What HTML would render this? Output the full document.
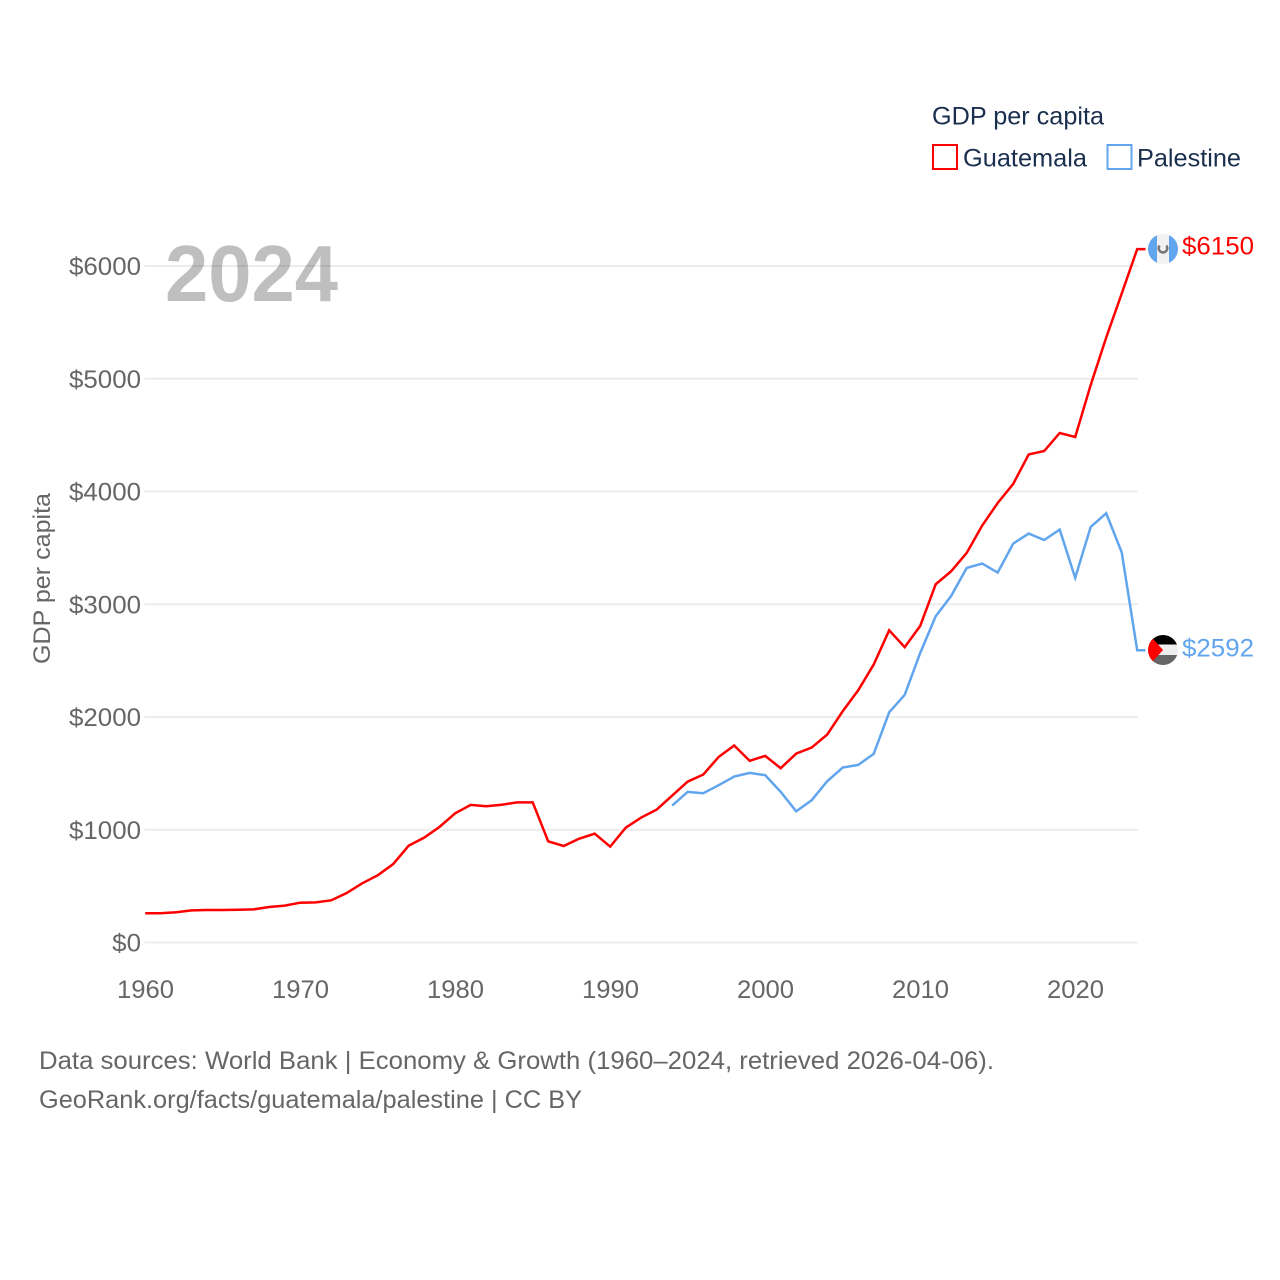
<!DOCTYPE html>
<html lang="en">
<head>
<meta charset="utf-8">
<title>GDP per capita: Guatemala and Palestine</title>
<style>
html,body{margin:0;padding:0;background:#fff;width:1280px;height:1280px;overflow:hidden}
svg{display:block;font-family:"Liberation Sans",sans-serif}
</style>
</head>
<body>
<svg id="chart" xmlns="http://www.w3.org/2000/svg" width="1280" height="1280" viewBox="0 0 1280 1280">
<rect width="1280" height="1280" fill="#ffffff"/>
<g id="grid"></g>
<text x="165" y="301" font-size="80" font-weight="700" fill="#000" fill-opacity="0.25" textLength="173" lengthAdjust="spacingAndGlyphs">2024</text>
<g id="ylabels"></g>
<g id="xlabels"></g>
<text transform="translate(50,578.5) rotate(-90)" text-anchor="middle" font-size="24" fill="#666666" textLength="171" lengthAdjust="spacingAndGlyphs">GDP per capita</text>
<g id="series"></g>
<defs>
<clipPath id="clip-gt"><circle cx="1163" cy="249" r="15"/></clipPath>
<clipPath id="clip-ps"><circle cx="1163" cy="650" r="15"/></clipPath>
</defs>
<g id="flag-gt" clip-path="url(#clip-gt)">
<rect x="1148" y="234" width="30" height="30" fill="#f2f2f2"/>
<rect x="1148" y="234" width="9" height="30" fill="#61a5ee"/>
<rect x="1169" y="234" width="9" height="30" fill="#61a5ee"/>
<path d="M1159.6,245.5 A4.3,4.3 0 1 0 1166.4,245.5" fill="none" stroke="#777777" stroke-width="2.6"/>
</g>
<g id="flag-ps" clip-path="url(#clip-ps)">
<rect x="1148" y="635" width="30" height="9.5" fill="#000000"/>
<rect x="1148" y="644.5" width="30" height="10.5" fill="#eeeeee"/>
<rect x="1148" y="655" width="30" height="10" fill="#666666"/>
<polygon points="1146,631 1163,650 1146,669" fill="#ff0000"/>
</g>
<g id="endlabels"></g>
<text x="932" y="124.5" font-size="25" fill="#1a2f4e" textLength="172" lengthAdjust="spacingAndGlyphs">GDP per capita</text>
<g>
<rect x="933" y="145" width="24" height="24" fill="#ffffff" stroke="#ff0000" stroke-width="2"/>
<text x="963" y="166.5" font-size="25" fill="#1a2f4e" textLength="124" lengthAdjust="spacingAndGlyphs">Guatemala</text>
</g>
<g>
<rect x="1107.5" y="145" width="24" height="24" fill="#ffffff" stroke="#61a5ee" stroke-width="2"/>
<text x="1137" y="166.5" font-size="25" fill="#1a2f4e" textLength="104" lengthAdjust="spacingAndGlyphs">Palestine</text>
</g>
<text x="39" y="1069" font-size="25" fill="#666666" textLength="955" lengthAdjust="spacingAndGlyphs">Data sources: World Bank | Economy &amp; Growth (1960–2024, retrieved 2026-04-06).</text>
<text x="39" y="1108" font-size="25" fill="#666666" textLength="543" lengthAdjust="spacingAndGlyphs">GeoRank.org/facts/guatemala/palestine | CC BY</text>
</svg>
<script>
const yearsGuatemala = [1960,1961,1962,1963,1964,1965,1966,1967,1968,1969,1970,1971,1972,1973,1974,1975,1976,1977,1978,1979,1980,1981,1982,1983,1984,1985,1986,1987,1988,1989,1990,1991,1992,1993,1994,1995,1996,1997,1998,1999,2000,2001,2002,2003,2004,2005,2006,2007,2008,2009,2010,2011,2012,2013,2014,2015,2016,2017,2018,2019,2020,2021,2022,2023,2024];
const valuesGuatemala = [259,259,268,285,288,288,291,294,315,327,353,356,374,439,525,596,696,859,930,1027,1146,1220,1208,1222,1243,1243,897,856,921,965,850,1018,1108,1179,1303,1427,1489,1646,1747,1611,1655,1546,1676,1729,1844,2051,2237,2465,2769,2619,2808,3177,3293,3455,3698,3898,4067,4329,4359,4519,4484,4945,5365,5755,6150];
const yearsPalestine = [1994,1995,1996,1997,1998,1999,2000,2001,2002,2003,2004,2005,2006,2007,2008,2009,2010,2011,2012,2013,2014,2015,2016,2017,2018,2019,2020,2021,2022,2023,2024];
const valuesPalestine = [1215,1336,1324,1395,1472,1504,1484,1336,1164,1262,1430,1552,1575,1673,2042,2196,2568,2894,3074,3322,3361,3281,3538,3627,3570,3662,3234,3686,3807,3461,2592];
const xTickValues = [1960,1970,1980,1990,2000,2010,2020];
const yTickValues = [0,1000,2000,3000,4000,5000,6000];
const yTickLabels = ["$0","$1000","$2000","$3000","$4000","$5000","$6000"];

const NS = 'http://www.w3.org/2000/svg';
const xScale = function (year) { return 145.2 + (year - 1960) * 15.5; };
const yScale = function (value) { return 942.5 - value * 0.11275; };
const make = function (tag) { return document.createElementNS(NS, tag); };

const grid = document.getElementById('grid');
const ylabels = document.getElementById('ylabels');
yTickValues.forEach(function (v, i) {
  const line = make('line');
  
  
  line.setAttribute('x1', 144.5);
  line.setAttribute('x2', 1138);
  line.setAttribute('y1', yScale(v));
  line.setAttribute('y2', yScale(v));
  line.setAttribute('stroke', '#ececec');
  line.setAttribute('stroke-width', 2);
  grid.appendChild(line);
  const t = make('text');
  
  
  t.setAttribute('x', 141);
  t.setAttribute('y', yScale(v) + 9);
  t.setAttribute('text-anchor', 'end');
  t.setAttribute('font-size', 25);
  t.setAttribute('fill', '#666666');
  t.setAttribute('textLength', 14.4 * yTickLabels[i].length);
  t.setAttribute('lengthAdjust', 'spacingAndGlyphs');
  t.textContent = yTickLabels[i];
  ylabels.appendChild(t);
});

const xlabels = document.getElementById('xlabels');
xTickValues.forEach(function (year) {
  const t = make('text');
  
  
  t.setAttribute('x', xScale(year) + 0.3);
  t.setAttribute('y', 998);
  t.setAttribute('text-anchor', 'middle');
  t.setAttribute('font-size', 25);
  t.setAttribute('fill', '#666666');
  t.setAttribute('textLength', 57);
  t.setAttribute('lengthAdjust', 'spacingAndGlyphs');
  t.textContent = String(year);
  xlabels.appendChild(t);
});

const series = document.getElementById('series');
const endlabels = document.getElementById('endlabels');
const buildPoints = function (years, values) {
  const pts = years.map(function (y, i) { return xScale(y).toFixed(2) + ',' + yScale(values[i]).toFixed(2); });
  const last = values[values.length - 1];
  pts.push('1145.5,' + yScale(last).toFixed(2));
  return pts.join(' ');
};

const lineGuatemala = make('polyline');


lineGuatemala.setAttribute('points', buildPoints(yearsGuatemala, valuesGuatemala));
lineGuatemala.setAttribute('fill', 'none');
lineGuatemala.setAttribute('stroke', '#ff0000');
lineGuatemala.setAttribute('stroke-width', 2.5);
series.appendChild(lineGuatemala);

const linePalestine = make('polyline');


linePalestine.setAttribute('points', buildPoints(yearsPalestine, valuesPalestine));
linePalestine.setAttribute('fill', 'none');
linePalestine.setAttribute('stroke', '#61a5ee');
linePalestine.setAttribute('stroke-width', 2.5);
series.appendChild(linePalestine);

const endGuatemala = make('text');


endGuatemala.setAttribute('x', 1182);
endGuatemala.setAttribute('y', 254.5);
endGuatemala.setAttribute('font-size', 25);
endGuatemala.setAttribute('fill', '#ff0000');
endGuatemala.setAttribute('textLength', 72);
endGuatemala.setAttribute('lengthAdjust', 'spacingAndGlyphs');
endGuatemala.textContent = '$' + valuesGuatemala[valuesGuatemala.length - 1];
endlabels.appendChild(endGuatemala);

const endPalestine = make('text');


endPalestine.setAttribute('x', 1182);
endPalestine.setAttribute('y', 656.5);
endPalestine.setAttribute('font-size', 25);
endPalestine.setAttribute('fill', '#61a5ee');
endPalestine.setAttribute('textLength', 72);
endPalestine.setAttribute('lengthAdjust', 'spacingAndGlyphs');
endPalestine.textContent = '$' + valuesPalestine[valuesPalestine.length - 1];
endlabels.appendChild(endPalestine);
</script>
</body>
</html>
